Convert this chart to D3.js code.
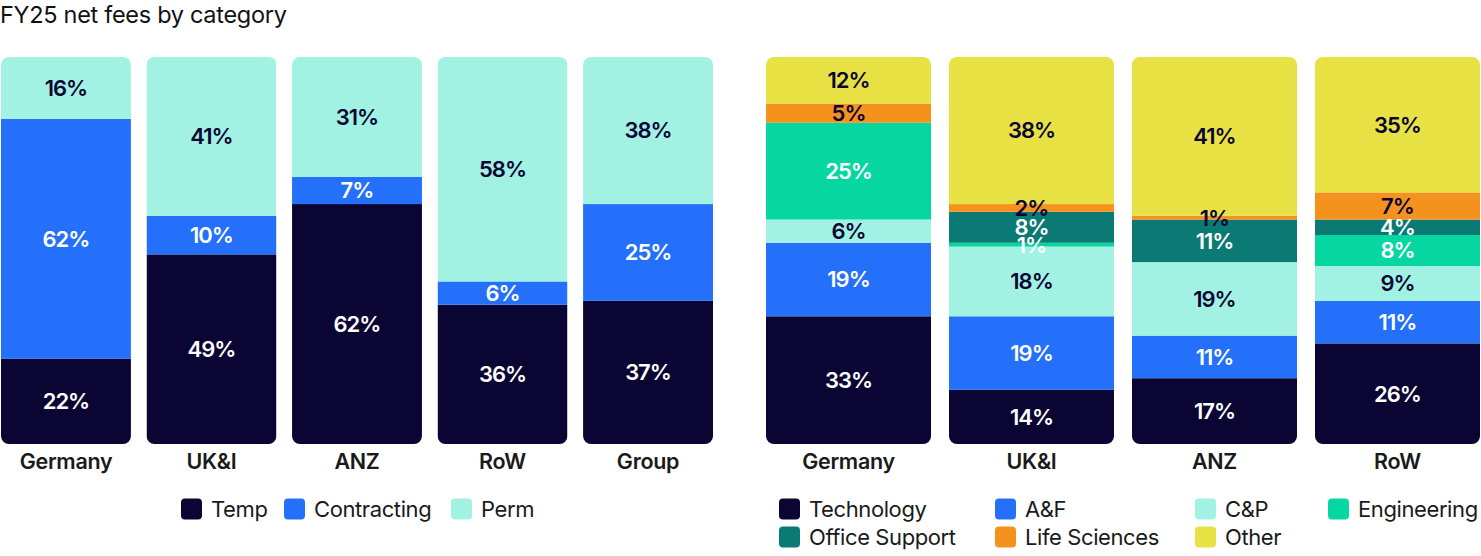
<!DOCTYPE html>
<html><head><meta charset="utf-8">
<script src="https://cdn.jsdelivr.net/npm/d3@7/dist/d3.min.js"></script>
<style>
html,body{margin:0;padding:0;background:#fff;}
text{font-family:Inter,"Noto Sans",sans-serif;}
</style></head>
<body><svg id="c" width="1481" height="556"></svg>
<script>
// ---- data ----
const title = "FY25 net fees by category";
const leftCategories = ["Germany","UK&I","ANZ","RoW","Group"];
const leftSeries = ["Temp","Contracting","Perm"];
const temp        = [22,49,62,36,37];
const contracting = [62,10,7,6,25];
const perm        = [16,41,31,58,38];

const rightCategories = ["Germany","UK&I","ANZ","RoW"];
const rightSeries = ["Technology","A&F","C&P","Engineering","Office Support","Life Sciences","Other"];
const technology    = [33,14,17,26];
const af            = [19,19,11,11];
const cp            = [6,18,19,9];
const engineering   = [25,1,0,8];
const officeSupport = [0,8,11,4];
const lifeSciences  = [5,2,1,7];
const other         = [12,38,41,35];

// ---- styles ----
const colors = {
  "Temp":"#0b0533","Contracting":"#2470fb","Perm":"#a2f2e3",
  "Technology":"#0b0533","A&F":"#2470fb","C&P":"#a2f2e3","Engineering":"#06d6a0",
  "Office Support":"#0b7a74","Life Sciences":"#f5921e","Other":"#e8e143"
};
const darkText = new Set(["Perm","C&P","Life Sciences","Other"]);
const ink = "#0b0533";

const svg = d3.select("#c");
svg.append("text").attr("x",0).attr("y",23).attr("font-size",23.5).attr("fill","#111")
  .attr("letter-spacing","-0.3").text(title);

const y = d3.scaleLinear().domain([0,100]).range([444,57]);
let clipId = 0;

function panel(cats, series, values, x0, x1, pad){
  const x = d3.scaleBand().domain(cats).range([x0,x1]).paddingInner(pad).paddingOuter(0);
  const rows = cats.map((c,i)=>{ const o={cat:c}; series.forEach((s,j)=>o[s]=values[j][i]); return o; });
  const stack = d3.stack().keys(series)(rows);
  const g = svg.append("g");
  cats.forEach((c)=>{
    const id = "clip"+(clipId++);
    svg.append("clipPath").attr("id",id).append("rect")
      .attr("x",x(c)).attr("y",y(100)).attr("width",x.bandwidth()).attr("height",y(0)-y(100))
      .attr("rx",8).attr("ry",8);
    const bg = g.append("g").attr("clip-path",`url(#${id})`);
    stack.forEach(layer=>{
      const d = layer.find(e=>e.data.cat===c);
      if(d[1]-d[0] <= 0) return;
      bg.append("rect").attr("x",x(c)).attr("width",x.bandwidth())
        .attr("y",y(d[1])).attr("height",y(d[0])-y(d[1])).attr("fill",colors[layer.key]);
    });
  });
  // value labels
  stack.forEach(layer=>{
    layer.forEach(d=>{
      const v = d[1]-d[0];
      if(v<=0) return;
      g.append("text").attr("x",x(d.data.cat)+x.bandwidth()/2).attr("y",(y(d[0])+y(d[1]))/2)
        .attr("dy","0.36em").attr("text-anchor","middle").attr("font-size",22).attr("font-weight",600)
        .attr("letter-spacing","-1")
        .attr("fill",darkText.has(layer.key)?ink:"#fff").text(v+"%");
    });
  });
  // category axis
  const ax = svg.append("g").attr("transform","translate(0,444)")
    .call(d3.axisBottom(x).tickSize(0).tickPadding(8));
  ax.select(".domain").remove();
  ax.selectAll("text").attr("font-size",21.5).attr("font-weight",600).attr("fill","#1a1a1a")
    .attr("letter-spacing","-0.3").attr("font-family","Inter,'Noto Sans',sans-serif").attr("dy","0.8em");
  return x;
}

panel(leftCategories,leftSeries,[temp,contracting,perm],1,713,0.107);
panel(rightCategories,rightSeries,[technology,af,cp,engineering,officeSupport,lifeSciences,other],766,1480,0.098);

function legend(items){
  items.forEach(it=>{
    const g = svg.append("g").attr("transform",`translate(${it.x},${it.y})`);
    g.append("rect").attr("x",0).attr("y",-10.5).attr("width",21).attr("height",21).attr("rx",4)
      .attr("fill",colors[it.k]);
    g.append("text").attr("x",30).attr("y",0).attr("dy","0.36em").attr("font-size",22)
      .attr("fill","#1a1a1a").attr("letter-spacing","-0.4").text(it.k);
  });
}
const leftLegendX = [181,284,451];
legend(leftSeries.map((k,i)=>({k, x:leftLegendX[i], y:509})));
const rightLegendX = [779,995,1195,1328];
legend(rightSeries.map((k,i)=>({k, x:rightLegendX[i%4], y: i<4?509:537})));
</script></body></html>
